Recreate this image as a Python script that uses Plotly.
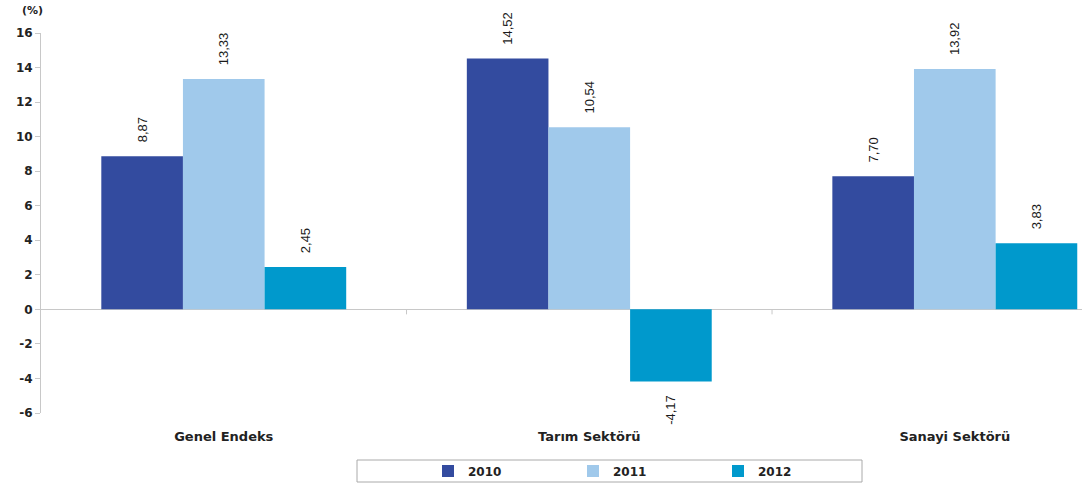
import plotly.graph_objects as go

categories = ["Genel Endeks", "Tarım Sektörü", "Sanayi Sektörü"]
years = ["2010", "2011", "2012"]
v2010 = [8.87, 14.52, 7.70]
v2011 = [13.33, 10.54, 13.92]
v2012 = [2.45, -4.17, 3.83]
colors = ["#334B9F", "#A0C9EB", "#0099CC"]
y_ticks = [-6, -4, -2, 0, 2, 4, 6, 8, 10, 12, 14, 16]

FONT = "Liberation Sans"
BOLD = "DejaVu Sans"
NB = "\u00a0\u00a0\u00a0"

def fmt(v):
    s = f"{v:.2f}".replace(".", ",")
    return (NB + s) if v >= 0 else (s + NB)

fig = go.Figure()
for yr, vals, col in zip(years, [v2010, v2011, v2012], colors):
    fig.add_trace(go.Bar(
        x=categories, y=vals, name=yr,
        marker=dict(color=col, line=dict(width=0)),
        text=[fmt(v) for v in vals],
        textposition="outside", textangle=-90,
        textfont=dict(family=FONT, size=13, color="#1a1a1a", weight="normal"),
        cliponaxis=False,
    ))

fig.update_layout(
    width=1082, height=484,
    paper_bgcolor="white", plot_bgcolor="white",
    margin=dict(l=41, r=0, t=33, b=71, autoexpand=False),
    barmode="group", bargap=0.33, bargroupgap=0,
    font=dict(family=BOLD, size=12, color="#222222", weight="bold"),
    showlegend=True,
    legend=dict(
        orientation="h", x=(428 - 41) / 1041, xanchor="left",
        y=(413 - 471) / 380, yanchor="middle",
        borderwidth=0, bgcolor="rgba(0,0,0,0)",
        entrywidth=100, entrywidthmode="pixels",
        font=dict(family=BOLD, size=12, color="#222222", weight="bold"),
    ),
    shapes=[
        dict(type="rect", xref="paper", yref="paper",
             x0=(357 - 41) / 1041, x1=(862 - 41) / 1041,
             y0=(413 - 482) / 380, y1=(413 - 460) / 380,
             line=dict(color="#AAAAAA", width=1), fillcolor="rgba(0,0,0,0)"),
        dict(type="line", xref="x", yref="paper", x0=0.5, x1=0.5,
             y0=6 / 22, y1=6 / 22 - 5 / 380, line=dict(color="#C8C8C8", width=1)),
        dict(type="line", xref="x", yref="paper", x0=1.5, x1=1.5,
             y0=6 / 22, y1=6 / 22 - 5 / 380, line=dict(color="#C8C8C8", width=1)),
    ],
)
fig.update_xaxes(
    range=[-0.5, 2.348], showline=False, showgrid=False, zeroline=False,
    ticks="", tickfont=dict(family=BOLD, size=13, color="#222222", weight="bold"),
    ticklabelstandoff=14,
)
fig.update_yaxes(
    range=[-6, 16], tickvals=y_ticks, ticktext=[str(t) for t in y_ticks],
    showline=True, linecolor="#C8C8C8", linewidth=1,
    ticks="outside", ticklen=5, tickcolor="#C8C8C8",
    showgrid=False, zeroline=True, zerolinecolor="#C8C8C8", zerolinewidth=1,
    tickfont=dict(family=BOLD, size=12, color="#222222", weight="bold"),
)
fig.add_annotation(text="(%)", xref="paper", yref="paper", x=-0.008, y=1.0,
                   yshift=14, xanchor="center", yanchor="bottom", showarrow=False,
                   font=dict(family=BOLD, size=11, color="#222222", weight="bold"))
fig.write_html("out.html", config={"displayModeBar": False},
               post_script="document.body.style.margin='0';")
